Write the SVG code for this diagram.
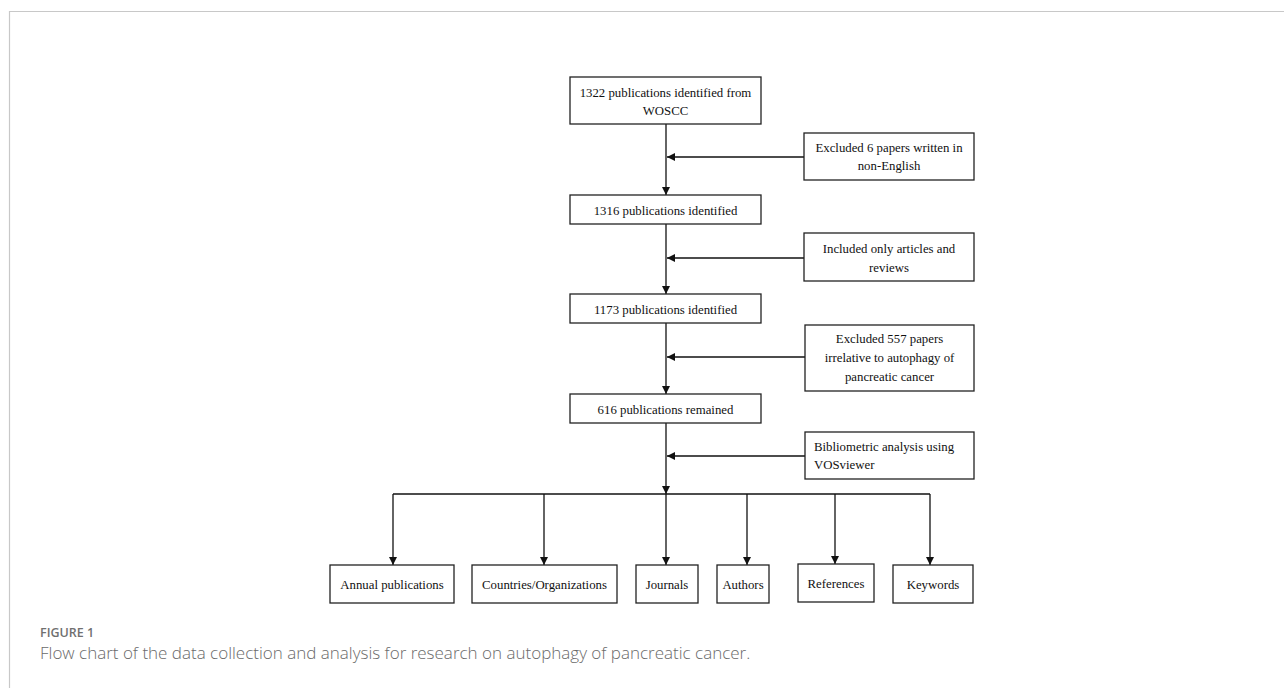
<svg xmlns="http://www.w3.org/2000/svg" width="1284" height="688" viewBox="0 0 1284 688">
<defs>
<marker id="ah" viewBox="0 0 10 10" refX="10" refY="5" markerWidth="8" markerHeight="8" markerUnits="userSpaceOnUse" orient="auto">
<path d="M0,0 L10,5 L0,10 z" fill="#111"/>
</marker>
<style>
.box{fill:#fff;stroke:#222;stroke-width:1.3}
.t{font-family:"Liberation Serif","Times New Roman",serif;font-size:12.8px;fill:#111;text-anchor:middle}
.tl{font-family:"Liberation Serif","Times New Roman",serif;font-size:12.8px;fill:#111;text-anchor:start}
.ln{stroke:#111;stroke-width:1.3;fill:none}
.ar{stroke:#111;stroke-width:1.3;fill:none;marker-end:url(#ah)}
.cap1{font-family:"Open Sans","Noto Sans",sans-serif;font-size:12.5px;font-weight:600;fill:#707070}
.cap2{font-family:"Open Sans","Noto Sans",sans-serif;font-size:17px;font-weight:300;fill:#6a6a6a}
</style>
</defs>
<rect width="1284" height="688" fill="#fff"/>
<path d="M9.5,688 V11.5 H1284" stroke="#c8c8c8" stroke-width="1.2" fill="none"/>

<g id="connectors">
<path class="ar" d="M666,124 V195"/>
<path class="ar" d="M666,224 V294"/>
<path class="ar" d="M666,323 V394"/>
<path class="ar" d="M666,423 V494"/>
<path class="ar" d="M804,157 H667"/>
<path class="ar" d="M804,258 H667"/>
<path class="ar" d="M805,357 H667"/>
<path class="ar" d="M805,456 H667"/>
<path class="ln" d="M393,494 H930"/>
<path class="ar" d="M393,494 V565"/>
<path class="ar" d="M544,494 V565"/>
<path class="ar" d="M666,494 V565"/>
<path class="ar" d="M747,494 V565"/>
<path class="ar" d="M835,494 V564"/>
<path class="ar" d="M930,494 V565"/>
</g>

<g id="n1"><rect class="box" x="570" y="77" width="191" height="47"/>
<text class="t" x="665.5" y="97">1322 publications identified from</text>
<text class="t" x="665.5" y="115">WOSCC</text></g>

<g id="s1"><rect class="box" x="804" y="133" width="170" height="47"/>
<text class="t" x="889" y="152">Excluded 6 papers written in</text>
<text class="t" x="889" y="170">non-English</text></g>

<g id="n2"><rect class="box" x="570" y="195" width="191" height="29"/>
<text class="t" x="665.5" y="214.5">1316 publications identified</text></g>

<g id="s2"><rect class="box" x="804" y="233" width="170" height="48"/>
<text class="t" x="889" y="253">Included only articles and</text>
<text class="t" x="889" y="272">reviews</text></g>

<g id="n3"><rect class="box" x="570" y="294" width="191" height="29"/>
<text class="t" x="665.5" y="313.5">1173 publications identified</text></g>

<g id="s3"><rect class="box" x="805" y="325" width="169" height="66"/>
<text class="t" x="889.5" y="343">Excluded 557 papers</text>
<text class="t" x="889.5" y="362">irrelative to autophagy of</text>
<text class="t" x="889.5" y="381">pancreatic cancer</text></g>

<g id="n4"><rect class="box" x="570" y="394" width="191" height="29"/>
<text class="t" x="665.5" y="413.5">616 publications remained</text></g>

<g id="s4"><rect class="box" x="805" y="432" width="169" height="47"/>
<text class="tl" x="814" y="451">Bibliometric analysis using</text>
<text class="tl" x="814" y="469">VOSviewer</text></g>

<g id="c1"><rect class="box" x="330" y="565" width="124" height="38"/>
<text class="t" x="392" y="589">Annual publications</text></g>
<g id="c2"><rect class="box" x="472" y="565" width="145" height="38"/>
<text class="t" x="544.5" y="589">Countries/Organizations</text></g>
<g id="c3"><rect class="box" x="636" y="565" width="62" height="38"/>
<text class="t" x="667" y="589">Journals</text></g>
<g id="c4"><rect class="box" x="717" y="565" width="52" height="38"/>
<text class="t" x="743" y="589">Authors</text></g>
<g id="c5"><rect class="box" x="798" y="564" width="76" height="38"/>
<text class="t" x="836" y="588">References</text></g>
<g id="c6"><rect class="box" x="893" y="565" width="80" height="38"/>
<text class="t" x="933" y="589">Keywords</text></g>

<text class="cap1" x="40" y="637">FIGURE 1</text>
<text class="cap2" x="40" y="659">Flow chart of the data collection and analysis for research on autophagy of pancreatic cancer.</text>
</svg>
